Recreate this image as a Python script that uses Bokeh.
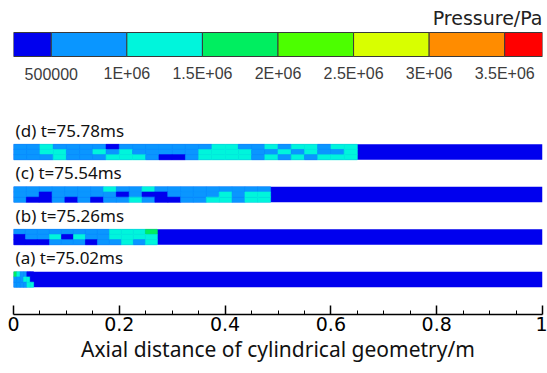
from bokeh.plotting import figure
from bokeh.models import Range1d, FixedTicker
from bokeh.embed import file_html
from bokeh.resources import INLINE
from bokeh.core.properties import value

# ---------------- data ----------------
# pressure classes of the contour legend (colour per class)
level_colors = ["#0000EE", "#0A96FF", "#00F5DC", "#00EE60",
                "#4CFF00", "#D8FF00", "#FF8C00", "#FF0000"]
cb_edges = [250000, 500000, 1000000, 1500000, 2000000,
            2500000, 3000000, 3500000, 3750000]
cb_ticks = [500000, 1000000, 1500000, 2000000, 2500000, 3000000, 3500000]
cb_labels = ["500000", "1E+06", "1.5E+06", "2E+06", "2.5E+06", "3E+06", "3.5E+06"]
cb_title = "Pressure/Pa"

snapshot_labels = ["(d) t=75.78ms", "(c) t=75.54ms", "(b) t=75.26ms", "(a) t=75.02ms"]
front_pos = [0.65, 0.486, 0.272, 0.038]   # axial position of the pressure front (m)

# pressure class behind the front, rows top -> bottom, columns 0 -> front
field_d = [
    [1, 1, 2, 1, 1, 1, 1, 0, 1, 1, 1, 1, 1, 1, 1, 2, 2, 1, 1, 2, 1, 2, 2, 1, 2, 2],
    [1, 1, 2, 2, 1, 1, 2, 1, 2, 1, 1, 1, 1, 1, 2, 2, 2, 2, 1, 1, 2, 1, 2, 1, 1, 2],
    [1, 1, 1, 2, 1, 1, 1, 2, 2, 2, 1, 0, 0, 1, 2, 2, 2, 2, 1, 2, 1, 2, 1, 2, 2, 2],
]
field_c = [
    [1, 1, 1, 1, 1, 1, 1, 2, 1, 1, 2, 1, 1, 1, 1, 1, 1, 1, 1, 1],
    [1, 1, 0, 1, 1, 1, 1, 1, 0, 1, 0, 0, 1, 1, 1, 1, 2, 1, 2, 2],
    [1, 0, 0, 1, 0, 1, 0, 1, 1, 2, 1, 0, 0, 1, 1, 2, 2, 1, 2, 2],
]
field_b = [
    [1, 1, 1, 1, 1, 1, 1, 1, 2, 2, 2, 3],
    [0, 1, 1, 2, 0, 2, 1, 1, 2, 2, 2, 2],
    [0, 0, 0, 1, 1, 1, 0, 1, 1, 2, 1, 2],
]
field_a = [
    [3, 2, 1, 1, 0, 0],
    [1, 1, 1, 2, 2, 0],
    [1, 1, 1, 1, 2, 2],
]
fields = [field_d, field_c, field_b, field_a]

x_ticks = [0, 0.2, 0.4, 0.6, 0.8, 1.0]
x_tick_labels = ["0", "0.2", "0.4", "0.6", "0.8", "1"]
x_minor = [0.05, 0.1, 0.15, 0.25, 0.3, 0.35, 0.45, 0.5, 0.55,
           0.65, 0.7, 0.75, 0.85, 0.9, 0.95]
x_title = "Axial distance of cylindrical geometry/m"

# ---------------- figure ----------------
W, H = 547, 373
BOTTOM = 314
p = figure(width=W, height=H, output_backend="svg", toolbar_location=None,
           x_range=Range1d(0, 1), y_range=Range1d(BOTTOM, 0),
           y_axis_location=None, min_border_left=13, min_border_right=5,
           min_border_top=0, min_border_bottom=H - BOTTOM)
p.outline_line_color = None
p.grid.visible = False
p.background_fill_color = "white"
p.extra_x_ranges = {"pressure": Range1d(cb_edges[0], cb_edges[-1])}

# colour legend
p.quad(left=cb_edges[:-1], right=cb_edges[1:], top=32, bottom=56,
       fill_color=level_colors, line_color="#3a3a3a", line_width=1,
       x_range_name="pressure")
p.text(x=cb_ticks, y=[73] * len(cb_ticks), text=cb_labels, x_range_name="pressure",
       text_align="center", text_baseline="middle",
       text_font=value("Liberation Sans"), text_font_size="16px", text_color="#3c3c3c")
p.text(x=[1.0], y=[17], text=[cb_title], text_align="right", text_baseline="middle",
       text_font=value("DejaVu Sans"), text_font_size="19px", text_color="#222222")

# pressure strips
strip_h = 15.5
for i, (lab, front, fld) in enumerate(zip(snapshot_labels, front_pos, fields)):
    top = 143.8 + 42.5 * i
    p.quad(left=[0], right=[1], top=[top], bottom=[top + strip_h],
           fill_color=level_colors[0], line_color=None)
    nr, nc = len(fld), len(fld[0])
    cw, ch = front / nc, strip_h / nr
    L, R, T, B, C = [], [], [], [], []
    for r, row in enumerate(fld):
        for c, lev in enumerate(row):
            L.append(c * cw); R.append((c + 1) * cw)
            T.append(top + r * ch); B.append(top + (r + 1) * ch)
            C.append(level_colors[lev])
    p.quad(left=L, right=R, top=T, bottom=B, fill_color=C, line_color=C, line_width=0.6)
    p.text(x=[0.004], y=[top - 14], text=[lab], text_align="left", text_baseline="middle",
           text_font=value("Noto Sans"), text_font_size="17px", text_color="#111111")

# axis
ax = p.xaxis[0]
ax.ticker = FixedTicker(ticks=x_ticks, minor_ticks=x_minor)
ax.major_label_overrides = dict(zip(x_ticks, x_tick_labels))
ax.axis_line_width = 1.5
ax.axis_line_color = "black"
ax.major_tick_in = 9
ax.major_tick_out = 0
ax.minor_tick_in = 4
ax.minor_tick_out = 0
ax.major_tick_line_width = 1.5
ax.minor_tick_line_width = 1
ax.major_label_text_font = "DejaVu Sans"
ax.major_label_text_font_size = "19px"
ax.major_label_text_color = "black"
ax.major_label_standoff = 2
ax.axis_label = x_title
ax.axis_label_text_font = "Noto Sans"
ax.axis_label_text_font_size = "21px"
ax.axis_label_text_font_style = "normal"
ax.axis_label_text_color = "#111111"
ax.axis_label_standoff = 1

open("out.html", "w").write(file_html(p, INLINE))
